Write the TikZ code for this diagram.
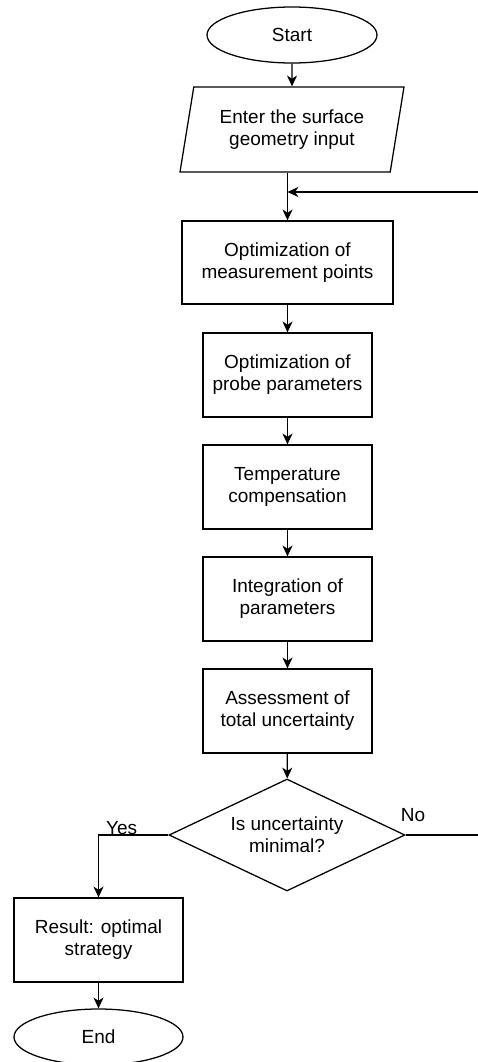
\documentclass[tikz,border=0pt]{standalone}
\usepackage{fontspec}
\setmainfont{Liberation Sans}
\usetikzlibrary{arrows.meta,positioning,shapes.geometric}

\begin{document}
\begin{tikzpicture}[line width=0.9pt,
    every node/.style={font=\fontsize{13.5}{15.6}\selectfont, align=center},
    arr/.style={-{Stealth[length=2.7mm,width=2.5mm,inset=0.8mm]}},
    term/.style={draw, ellipse, minimum width=4.225cm, minimum height=1.4cm, inner sep=1pt},
    io/.style={draw, trapezium, trapezium left angle=72, trapezium right angle=108, trapezium stretches body=true, minimum width=5.6cm, minimum height=2.125cm, inner sep=1pt},
    proc/.style={draw, rectangle, minimum width=4.225cm, minimum height=2.1cm, inner sep=1pt},
    cond/.style={draw, diamond, aspect=2.1, minimum width=5.9cm, minimum height=2.8cm, inner sep=1pt}]
      \useasboundingbox (0,0) rectangle (11.95,-26.55);
      \node[term, minimum width=4.25cm] (start) at (7.3, -0.875) {Start};
      \node[io] (inp) at (7.3, -3.2375) {Enter the surface\\geometry input};
      \node[proc, minimum width=5.275cm, minimum height=2.075cm] (points) at (7.1875, -6.5625) {Optimization of\\measurement points};
      \node[proc] (probe) at (7.1875, -9.375) {Optimization of\\probe parameters};
      \node[proc] (temp) at (7.1875, -12.175) {Temperature\\compensation};
      \node[proc] (integ) at (7.1875, -14.975) {Integration of\\parameters};
      \node[proc] (assess) at (7.1875, -17.775) {Assessment of\\total uncertainty};
      \node[cond] (check) at (7.175, -20.875) {Is uncertainty\\minimal?};
      \node[proc] (result) at (2.4625, -23.5) {Result: optimal\\strategy};
      \node[term] (end) at (2.4625, -25.925) {End};
      \coordinate (yescorner) at (2.4625, -20.875);
      \coordinate (noright) at (12.0, -20.875);
      \coordinate (notop) at (12.0, -4.8);
      \draw[arr] (start) -- (inp);
      \draw[arr] (inp.south -| points.north) -- (points);
      \draw[arr] (points) -- (probe);
      \draw[arr] (probe) -- (temp);
      \draw[arr] (temp) -- (integ);
      \draw[arr] (integ) -- (assess);
      \draw[arr] (assess) -- (check);
      \draw[arr] (check.west) -- (yescorner) -- (result);
      \draw[arr] (result) -- (end);
      \draw[arr] (check.east) -- (noright) -- (notop) -- (notop -| points.north);
      \node[anchor=base, inner sep=0pt] (yes) at (3.04, -20.86) {Yes};
      \node (no) at (10.325, -20.375) {No};
    \end{tikzpicture}
\end{document}
